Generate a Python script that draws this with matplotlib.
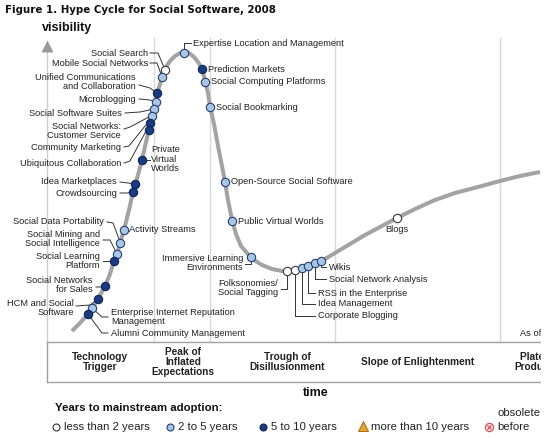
import matplotlib
matplotlib.use("Agg")
import matplotlib.pyplot as plt

# hype curve (time, visibility), screen-like units
curve_x = [72, 80, 88, 93, 98, 105, 110, 114, 117, 120, 124, 129, 133, 138, 142, 146, 149, 152,
           155, 157, 160, 163, 166, 170, 175, 180, 184, 189, 194, 198, 202, 205, 208, 210, 214,
           218, 222, 225, 228, 232, 236, 241, 247, 254, 262, 272, 282, 290, 298, 306, 316, 325,
           335, 350, 365, 380, 397, 415, 435, 455, 478, 500, 520, 540]
curve_y = [331, 323, 314, 307, 299, 286, 274, 261, 254, 243, 230, 210, 192, 175, 160, 142, 130, 117,
           105, 94, 84, 75, 67, 61, 56, 53, 52, 53, 57, 62, 69, 80, 93, 106, 124,
           146, 166, 182, 200, 220, 234, 246, 253, 260, 265, 269, 271, 271, 269, 266, 263, 259,
           253, 244, 235, 227, 218, 209, 200, 193, 187, 181, 176, 172]

# technologies on the curve
tech_names = ["Social Search", "Mobile Social Networks", "Unified Communications\nand Collaboration",
              "Microblogging", "Social Software Suites", "Social Networks:\nCustomer Service",
              "Community Marketing", "Ubiquitous Collaboration", "Private\nVirtual\nWorlds",
              "Idea Marketplaces", "Crowdsourcing", "Social Data Portability",
              "Social Mining and\nSocial Intelligence", "Social Learning\nPlatform", "Activity Streams",
              "Social Networks\nfor Sales", "HCM and Social\nSoftware",
              "Enterprise Internet Reputation\nManagement", "Alumni Community Management",
              "Expertise Location and Management", "Prediction Markets", "Social Computing Platforms",
              "Social Bookmarking", "Open-Source Social Software", "Public Virtual Worlds",
              "Immersive Learning\nEnvironments", "Folksonomies/\nSocial Tagging", "Corporate Blogging",
              "Idea Management", "RSS in the Enterprise", "Social Network Analysis", "Wikis", "Blogs"]
tech_x = [165, 162, 157, 156, 154, 152, 150, 149, 142, 135, 133, 120, 117, 114, 124, 105, 98, 92, 88,
          184, 202, 205, 210, 225, 232, 251, 287, 295, 302, 308, 315, 321, 397]
tech_y = [70, 77, 93, 102, 109, 116, 123, 130, 160, 184, 192, 243, 254, 261, 230, 286, 299, 308, 314,
          53, 69, 82, 107, 182, 221, 257, 271, 270, 268, 266, 263, 261, 218]
tech_years = ["lt2", "2to5", "5to10", "2to5", "2to5", "2to5", "5to10", "5to10", "5to10", "5to10", "5to10",
              "2to5", "2to5", "5to10", "2to5", "5to10", "5to10", "2to5", "5to10",
              "2to5", "5to10", "2to5", "2to5", "2to5", "2to5", "2to5", "lt2", "lt2",
              "2to5", "2to5", "2to5", "2to5", "lt2"]

phases = ["Technology\nTrigger", "Peak of\nInflated\nExpectations", "Trough of\nDisillusionment",
          "Slope of Enlightenment", "Plateau of\nProductivity"]
legend_labels = ["less than 2 years", "2 to 5 years", "5 to 10 years", "more than 10 years", "before"]

# label layout: text position, alignment, leader-line points before the dot
label_layout = [
    (148, 53, "right", [(150, 53), (158, 53)]),
    (148, 63, "right", [(150, 63), (157, 63)]),
    (136, 82, "right", [(139, 85), (150, 88)]),
    (136, 99, "right", [(139, 99), (150, 100)]),
    (122, 113, "right", [(125, 113), (140, 112)]),
    (121, 131, "right", [(124, 129), (130, 127), (147, 118)]),
    (121, 147, "right", [(124, 147), (129, 146), (145, 126)]),
    (121, 163, "right", [(124, 163), (130, 161), (145, 133)]),
    (151, 159, "left", [(150, 160)]),
    (117, 182, "right", [(120, 182), (128, 183)]),
    (117, 193, "right", [(120, 193), (127, 193)]),
    (104, 222, "right", [(107, 222), (113, 223), (119, 239)]),
    (100, 239, "right", [(103, 240), (110, 240), (115, 250)]),
    (100, 261, "right", [(103, 261), (110, 261)]),
    (129, 230, "left", []),
    (93, 285, "right", [(96, 287), (101, 287)]),
    (74, 308, "right", [(76, 306), (90, 305)]),
    (111, 317, "left", [(108, 317), (102, 317)]),
    (111, 333, "left", [(108, 333), (102, 333)]),
    (193, 43, "left", [(191, 43), (184, 43)]),
    (208, 69, "left", []),
    (211, 82, "left", []),
    (216, 107, "left", []),
    (231, 182, "left", []),
    (238, 221, "left", []),
    (243, 263, "right", [(245, 264), (251, 264)]),
    (278, 288, "right", [(281, 289), (287, 289)]),
    (318, 316, "left", [(315, 316), (295, 316)]),
    (318, 304, "left", [(315, 304), (302, 304)]),
    (318, 293, "left", [(315, 293), (308, 293)]),
    (329, 279, "left", [(326, 279), (315, 279)]),
    (329, 267, "left", [(326, 267), (321, 267)]),
    (397, 231, "center", []),
]

styles = {"lt2": ("white", "#3a3a3a"), "2to5": ("#aac6e6", "#24406e"), "5to10": ("#1b3a80", "#10255a")}
LBL = "Liberation Sans"

fig = plt.figure(figsize=(5.59, 4.38), dpi=100)
ax = fig.add_axes([0, 0, 1, 1])
ax.set_xlim(0, 559)
ax.set_ylim(438, 0)
ax.axis("off")

# phase separators and visibility axis
for gx in [154, 210, 335, 500]:
    ax.plot([gx, gx], [38, 342], color="#d9d9d9", lw=1, zorder=1)
ax.plot([47, 47], [50, 342], color="#cfcfcf", lw=1, zorder=1)
ax.plot(47, 46, marker="^", ms=8, color="#9a9a9a", mec="none", zorder=2)

# phase box
ax.plot([47, 559], [342, 342], color="#a0a0a0", lw=1)
ax.plot([47, 559], [382, 382], color="#a0a0a0", lw=1)
ax.plot([47, 47], [342, 382], color="#a0a0a0", lw=1)
for name, cx in zip(phases, [100, 183, 287, 418, 544]):
    ax.text(cx, 362, name, ha="center", va="center", fontsize=7.3, fontweight="bold",
            family=LBL, color="#222222", linespacing=1.05)

ax.plot(curve_x, curve_y, color="#a3a3a3", lw=2.9, solid_capstyle="butt", zorder=2)

for name, x, y, yrs, (tx, ty, ha, path) in zip(tech_names, tech_x, tech_y, tech_years, label_layout):
    if path:
        px = [p[0] for p in path] + [x]
        py = [p[1] for p in path] + [y]
        ax.plot(px, py, color="#333333", lw=0.7, zorder=3)
    fc, ec = styles[yrs]
    ax.plot(x, y, "o", ms=6, mfc=fc, mec=ec, mew=0.8, zorder=4)
    va = "top" if ha == "center" else "center"
    ax.text(tx, ty if va == "center" else ty - 6, name, ha=ha, va=va, fontsize=6.7, family=LBL,
            color="#222222", linespacing=1.1)

ax.text(520, 333, "As of July 2008", ha="left", va="center", fontsize=6.7, family=LBL, color="#222222")

# titles
ax.text(5, 10, "Figure 1. Hype Cycle for Social Software, 2008", ha="left", va="center",
        fontsize=7.4, fontweight="bold", family="DejaVu Sans", color="#111111")
ax.text(42, 28, "visibility", ha="left", va="center", fontsize=9, fontweight="bold",
        family=LBL, color="#111111")
ax.text(316, 393, "time", ha="center", va="center", fontsize=9, fontweight="bold",
        family=LBL, color="#111111")

# legend
ax.text(55, 408, "Years to mainstream adoption:", ha="left", va="center", fontsize=8.2,
        fontweight="bold", family=LBL, color="#111111")
leg_x = [56, 170, 263, 363, 489]
ax.plot(leg_x[0], 427, "o", ms=5, mfc="white", mec="#333333", mew=0.8)
ax.plot(leg_x[1], 427, "o", ms=5, mfc="#aac6e6", mec="#24406e", mew=0.8)
ax.plot(leg_x[2], 427, "o", ms=5, mfc="#1b3a80", mec="#10255a", mew=0.8)
ax.plot(leg_x[3], 426, "^", ms=7.5, mfc="#e8a030", mec="#a06010", mew=0.6)
ax.plot(leg_x[4], 427, "o", ms=6, mfc="#f6dada", mec="#d05060", mew=0.8)
ax.plot(leg_x[4], 427, "x", ms=3.5, mec="#d05060", mew=0.8)
for lx, lab in zip(leg_x, legend_labels):
    ax.text(lx + 8, 427, lab, ha="left", va="center", fontsize=8.2, family=LBL, color="#222222")
ax.text(497, 413, "obsolete", ha="left", va="center", fontsize=8.2, family=LBL, color="#222222")

# picture is cut off on the right
ax.add_patch(plt.Rectangle((541, 0), 18, 438, color="white", zorder=10))

fig.savefig("out.png", dpi=100)
